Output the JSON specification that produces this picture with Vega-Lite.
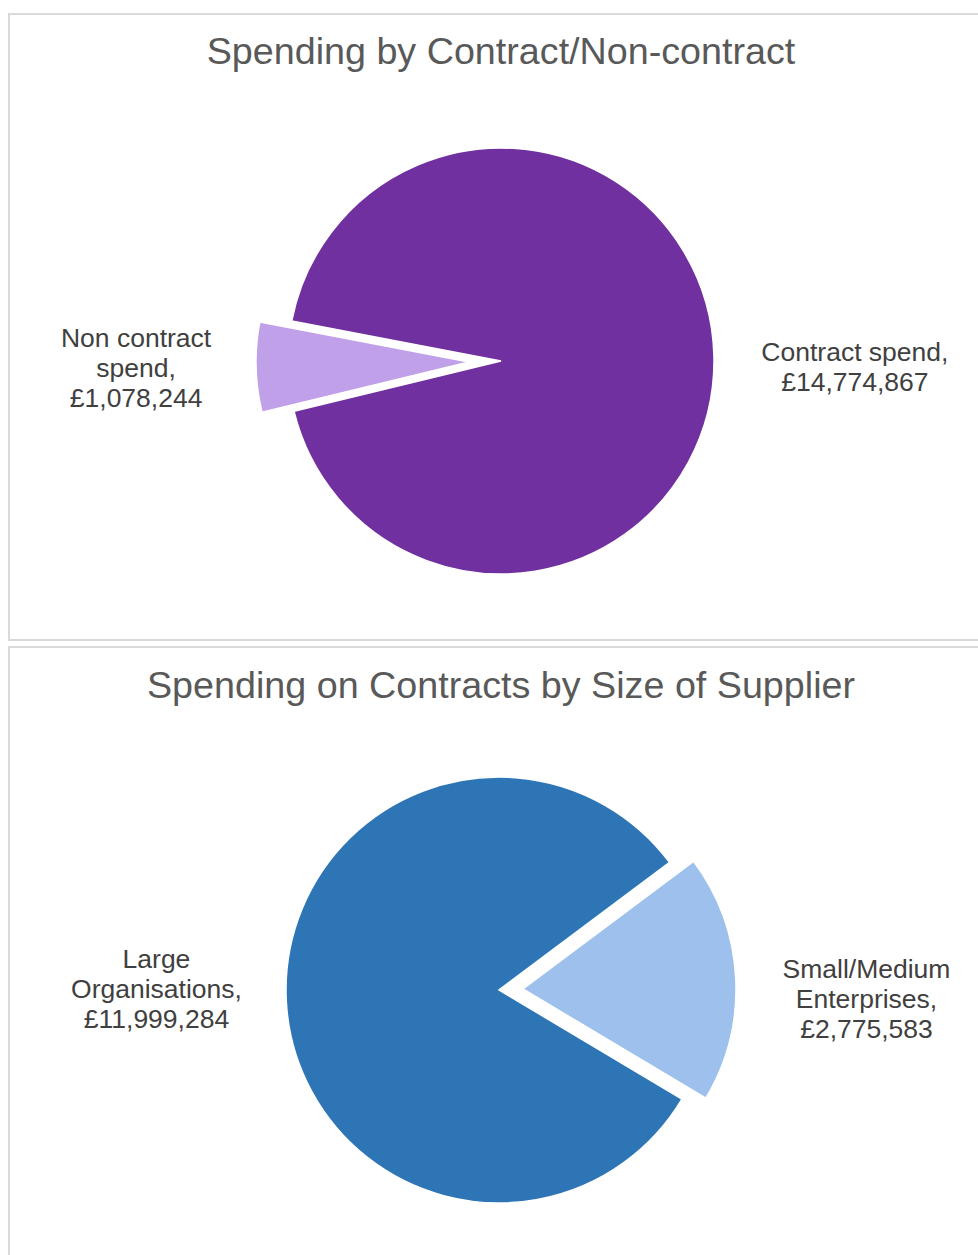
{
  "$schema": "https://vega.github.io/schema/vega-lite/v6.json",
  "padding": {"left": 8, "top": 13, "right": 0, "bottom": 0},
  "spacing": 5,
  "background": "white",
  "resolve": {"scale": {"color": "independent", "theta": "independent"}},
  "datasets": {
    "contract": [
      {"category": "Contract spend", "amount": 14774867, "ord": 1, "label": "Contract spend,\n£14,774,867"},
      {"category": "Non contract spend", "amount": 1078244, "ord": 2, "label": "Non contract\nspend,\n£1,078,244"}
    ],
    "supplier": [
      {"category": "Large Organisations", "amount": 11999284, "ord": 1, "label": "Large\nOrganisations,\n£11,999,284"},
      {"category": "Small/Medium Enterprises", "amount": 2775583, "ord": 2, "label": "Small/Medium\nEnterprises,\n£2,775,583"}
    ]
  },
  "vconcat": [
    {
      "width": 984,
      "height": 626,
      "view": {"stroke": "#d9d9d9", "strokeWidth": 2},
      "data": {"name": "contract"},
      "title": {"text": "Spending by Contract/Non-contract", "offset": -88, "baseline": "alphabetic", "anchor": "middle", "frame": "group", "font": "Liberation Sans", "fontSize": 37.7, "fontWeight": "normal", "color": "#595959"},
      "encoding": {
        "theta": {"field": "amount", "type": "quantitative", "stack": true, "scale": {"range": [4.9016, 11.1848]}},
        "order": {"field": "ord", "type": "quantitative"}
      },
      "layer": [
        {
          "mark": {"type": "arc", "outerRadius": 213, "yOffset": 34, "stroke": "white", "strokeWidth": 1.5},
          "encoding": {
            "color": {"field": "category", "type": "nominal", "scale": {"domain": ["Contract spend", "Non contract spend"], "range": ["#7030A0", "#BFA0E9"]}, "legend": null},
            "opacity": {"condition": {"test": "datum.ord == 2", "value": 0}, "value": 1}
          }
        },
        {
          "mark": {"type": "arc", "outerRadius": 213, "yOffset": 35, "xOffset": -32, "stroke": "white", "strokeWidth": 1.5},
          "encoding": {
            "color": {"field": "category", "type": "nominal", "scale": {"domain": ["Contract spend", "Non contract spend"], "range": ["#7030A0", "#BFA0E9"]}, "legend": null},
            "opacity": {"condition": {"test": "datum.ord == 2", "value": 1}, "value": 0}
          }
        },
        {
          "mark": {"type": "text", "radius": 354, "yOffset": 34, "dy": 1, "font": "Liberation Sans", "fontSize": 26.5, "fill": "#404040", "lineBreak": "\n", "lineHeight": 30, "align": "center", "baseline": "middle"},
          "encoding": {"text": {"condition": {"test": "datum.ord == 1", "field": "label"}, "value": ""}}
        },
        {
          "mark": {"type": "text", "radius": 365, "yOffset": 34, "dy": -31, "font": "Liberation Sans", "fontSize": 26.5, "fill": "#404040", "lineBreak": "\n", "lineHeight": 30, "align": "center", "baseline": "middle"},
          "encoding": {"text": {"condition": {"test": "datum.ord == 2", "field": "label"}, "value": ""}}
        }
      ]
    },
    {
      "width": 984,
      "height": 686,
      "view": {"stroke": "#d9d9d9", "strokeWidth": 2},
      "data": {"name": "supplier"},
      "title": {"text": "Spending on Contracts by Size of Supplier", "offset": -89, "baseline": "alphabetic", "anchor": "middle", "frame": "group", "font": "Liberation Sans", "fontSize": 37.7, "fontWeight": "normal", "color": "#595959"},
      "encoding": {
        "theta": {"field": "amount", "type": "quantitative", "stack": true, "scale": {"range": [2.1087, 8.3919]}},
        "order": {"field": "ord", "type": "quantitative"}
      },
      "layer": [
        {
          "mark": {"type": "arc", "outerRadius": 213, "xOffset": -2, "stroke": "white", "strokeWidth": 1.5},
          "encoding": {
            "color": {"field": "category", "type": "nominal", "scale": {"domain": ["Large Organisations", "Small/Medium Enterprises"], "range": ["#2E75B6", "#9DC1EC"]}, "legend": null},
            "opacity": {"condition": {"test": "datum.ord == 2", "value": 0}, "value": 1}
          }
        },
        {
          "mark": {"type": "arc", "outerRadius": 213, "xOffset": 22, "yOffset": -1, "stroke": "white", "strokeWidth": 1.5},
          "encoding": {
            "color": {"field": "category", "type": "nominal", "scale": {"domain": ["Large Organisations", "Small/Medium Enterprises"], "range": ["#2E75B6", "#9DC1EC"]}, "legend": null},
            "opacity": {"condition": {"test": "datum.ord == 2", "value": 1}, "value": 0}
          }
        },
        {
          "mark": {"type": "text", "radius": 343, "xOffset": -2, "dy": -48, "font": "Liberation Sans", "fontSize": 26.5, "fill": "#404040", "lineBreak": "\n", "lineHeight": 30, "align": "center", "baseline": "middle"},
          "encoding": {"text": {"condition": {"test": "datum.ord == 1", "field": "label"}, "value": ""}}
        },
        {
          "mark": {"type": "text", "radius": 368, "xOffset": -2, "dy": -1, "font": "Liberation Sans", "fontSize": 26.5, "fill": "#404040", "lineBreak": "\n", "lineHeight": 30, "align": "center", "baseline": "middle"},
          "encoding": {"text": {"condition": {"test": "datum.ord == 2", "field": "label"}, "value": ""}}
        }
      ]
    }
  ],
  "config": {
    "view": {"stroke": "#d9d9d9", "strokeWidth": 2},
    "style": {"cell": {"stroke": "#d9d9d9", "strokeWidth": 2}}
  }
}
